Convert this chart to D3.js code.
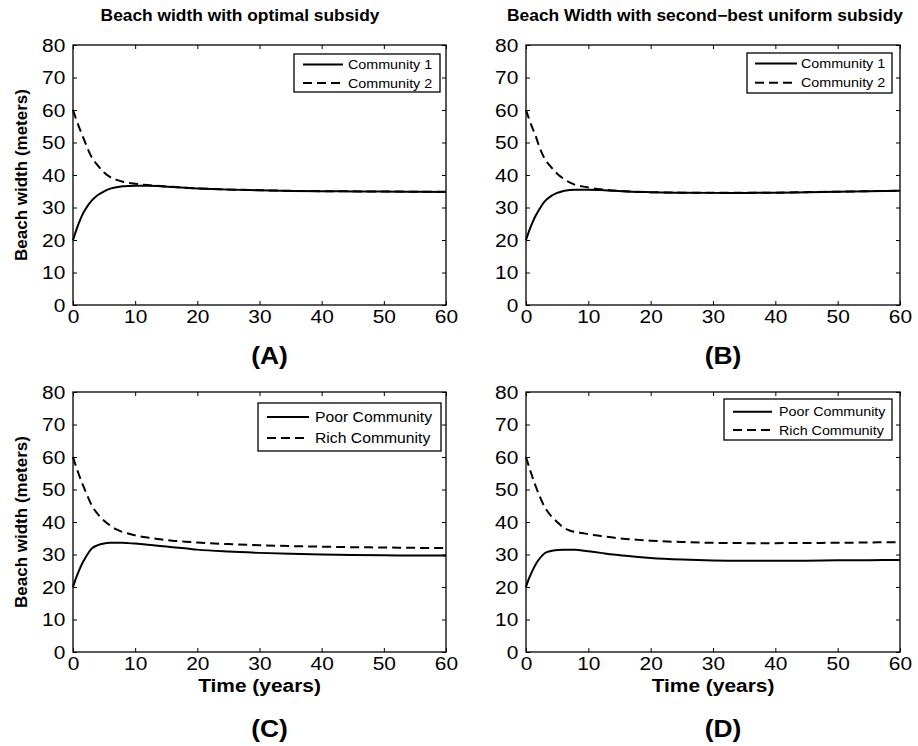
<!DOCTYPE html>
<html>
<head>
<meta charset="utf-8">
<script src="https://cdn.jsdelivr.net/npm/d3@7"></script>
<style>
  html, body { margin: 0; padding: 0; background: #fff; }
  svg { display: block; }
  text { font-family: "Liberation Sans", Arial, Helvetica, sans-serif; fill: #000; }
</style>
</head>
<body>
<svg id="chart" width="918" height="746"></svg>
<script>
// ---------------- DATA ----------------
const time = [0, 0.5, 1, 1.5, 2, 3, 4, 5, 6, 7, 8, 9, 10, 12, 14, 16, 18, 20, 25, 30, 35, 40, 45, 50, 55, 60];

const xTicks = [0, 10, 20, 30, 40, 50, 60];
const yTicks = [0, 10, 20, 30, 40, 50, 60, 70, 80];

const titles = ["Beach width with optimal subsidy", "Beach Width with second\u2212best uniform subsidy", "", ""];
const panelLetters = ["(A)", "(B)", "(C)", "(D)"];
const legendNamesTop = ["Community 1", "Community 2"];
const legendNamesBottom = ["Poor Community", "Rich Community"];
const yLabel = "Beach width (meters)";
const xLabel = "Time (years)";

// Panel A: optimal subsidy
const aCommunity1 = [20, 22.9, 25.5, 27.75, 29.45, 32.1, 33.85, 34.95, 35.8, 36.25, 36.52, 36.63, 36.7, 36.7, 36.55, 36.3, 36.05, 35.85, 35.5, 35.3, 35.1, 35.0, 34.95, 34.9, 34.85, 34.8];
const aCommunity2 = [60, 57.2, 54.6, 52.2, 49.8, 45.5, 42.9, 40.8, 39.35, 38.5, 37.95, 37.55, 37.3, 36.9, 36.6, 36.35, 36.1, 35.9, 35.52, 35.32, 35.12, 35.02, 34.97, 34.92, 34.87, 34.82];
// Panel B: second-best uniform subsidy
const bCommunity1 = [20, 22.8, 25.2, 27.3, 29.0, 31.9, 33.5, 34.5, 35.1, 35.4, 35.5, 35.5, 35.5, 35.35, 35.15, 34.95, 34.8, 34.7, 34.55, 34.5, 34.5, 34.55, 34.7, 34.85, 35.0, 35.15];
const bCommunity2 = [60, 57.2, 54.6, 52.3, 49.4, 45.0, 42.5, 40.4, 38.9, 37.7, 36.9, 36.5, 36.15, 35.6, 35.25, 35.0, 34.82, 34.72, 34.57, 34.52, 34.52, 34.57, 34.72, 34.87, 35.02, 35.17];
// Panel C: optimal subsidy, poor vs rich
const cPoor = [20, 22.8, 25.2, 27.3, 29.0, 31.8, 32.9, 33.4, 33.6, 33.65, 33.6, 33.5, 33.35, 33.0, 32.65, 32.25, 31.9, 31.5, 30.9, 30.5, 30.2, 30.0, 29.85, 29.75, 29.7, 29.65];
const cRich = [60, 57.0, 54.3, 51.8, 49.5, 45.2, 42.4, 40.4, 38.9, 37.7, 36.9, 36.4, 35.9, 35.2, 34.7, 34.25, 33.95, 33.7, 33.2, 32.85, 32.6, 32.4, 32.25, 32.15, 32.05, 32.0];
// Panel D: second-best, poor vs rich
const dPoor = [20, 22.7, 24.9, 26.8, 28.3, 30.4, 31.1, 31.4, 31.5, 31.5, 31.45, 31.25, 31.0, 30.5, 30.0, 29.6, 29.25, 28.95, 28.45, 28.15, 28.05, 28.05, 28.1, 28.2, 28.25, 28.3];
const dRich = [60, 56.9, 54.0, 51.3, 48.8, 44.6, 41.9, 40.0, 38.3, 37.4, 36.9, 36.6, 36.25, 35.7, 35.2, 34.8, 34.5, 34.25, 33.85, 33.6, 33.5, 33.5, 33.55, 33.6, 33.7, 33.8];

const panelSeries = [
  [aCommunity1, aCommunity2],
  [bCommunity1, bCommunity2],
  [cPoor, cRich],
  [dPoor, dRich]
];
const panelLegendNames = [legendNamesTop, legendNamesTop, legendNamesBottom, legendNamesBottom];

// ---------------- LAYOUT ----------------
const SX = 1.1; // horizontal stretch of the reference's lettering
const panels = [
  { x0: 73,  x1: 446, y0: 45,  y1: 305, titleX: 240, letterY: 364, leg: { x: 294, y: 54,  w: 146, h: 38, l1: 303, l2: 343, tx: 348, r1: 64.5, r2: 83,  fs: 13 }, yLab: true,  xLab: false },
  { x0: 526, x1: 900, y0: 45,  y1: 305, titleX: 705, letterY: 364, leg: { x: 747, y: 53,  w: 145, h: 40, l1: 755, l2: 797, tx: 801, r1: 63.5, r2: 82.7, fs: 13 }, yLab: false, xLab: false },
  { x0: 73,  x1: 446, y0: 392, y1: 652, titleX: 240, letterY: 737, leg: { x: 258, y: 403, w: 183, h: 48, l1: 267, l2: 309, tx: 315, r1: 417, r2: 438, fs: 14.3 }, yLab: true,  xLab: true },
  { x0: 526, x1: 900, y0: 392, y1: 652, titleX: 705, letterY: 737, leg: { x: 724, y: 399, w: 168, h: 41, l1: 733, l2: 772, tx: 779, r1: 411.7, r2: 430, fs: 13 }, yLab: false, xLab: true }
];
const dashes = ["none", "9,5"];

const svg = d3.select("#chart");

function stretchedText(g, x, y, str, opts) {
  const t = g.append("text")
    .attr("transform", `translate(${x},${y}) scale(${SX},1)`)
    .text(str);
  Object.entries(opts || {}).forEach(([k, v]) => t.style(k, v));
  return t;
}

panels.forEach((p, i) => {
  const g = svg.append("g");
  const x = d3.scaleLinear().domain([0, 60]).range([p.x0, p.x1]);
  const y = d3.scaleLinear().domain([0, 80]).range([p.y1, p.y0]);

  // axes with inward ticks
  const bottom = g.append("g").attr("transform", `translate(0,${p.y1})`)
    .call(d3.axisBottom(x).tickValues(xTicks).tickFormat(d3.format("d")).tickSizeInner(-4).tickSizeOuter(0).tickPadding(5));
  const left = g.append("g").attr("transform", `translate(${p.x0},0)`)
    .call(d3.axisLeft(y).tickValues(yTicks).tickFormat(d3.format("d")).tickSizeInner(-4).tickSizeOuter(0).tickPadding(7));
  const top = g.append("g").attr("transform", `translate(0,${p.y0})`)
    .call(d3.axisTop(x).tickValues(xTicks).tickFormat("").tickSizeInner(-4).tickSizeOuter(0));
  const right = g.append("g").attr("transform", `translate(${p.x1},0)`)
    .call(d3.axisRight(y).tickValues(yTicks).tickFormat("").tickSizeInner(-4).tickSizeOuter(0));

  [bottom, left, top, right].forEach(a => {
    a.select(".domain").remove();
    a.selectAll("line").attr("stroke", "#000").attr("stroke-width", 1);
  });
  [bottom, left].forEach(a => {
    a.selectAll("text")
      .attr("fill", "#000")
      .style("font-family", '"Liberation Sans", Arial, sans-serif')
      .style("font-size", "19px")
      .attr("transform", `scale(${SX},1)`);
  });

  // curves
  panelSeries[i].forEach((vals, k) => {
    const pts = time.map((t, j) => [t, vals[j]]);
    g.append("path")
      .datum(pts)
      .attr("fill", "none")
      .attr("stroke", "#000")
      .attr("stroke-width", 2)
      .attr("stroke-dasharray", dashes[k])
      .attr("d", d3.line().x(d => x(d[0])).y(d => y(d[1])).curve(d3.curveMonotoneX));
  });

  // frame
  g.append("rect")
    .attr("x", p.x0).attr("y", p.y0)
    .attr("width", p.x1 - p.x0).attr("height", p.y1 - p.y0)
    .attr("fill", "none").attr("stroke", "#000").attr("stroke-width", 1.3);

  // legend
  const L = p.leg;
  g.append("rect").attr("x", L.x).attr("y", L.y).attr("width", L.w).attr("height", L.h)
    .attr("fill", "#fff").attr("stroke", "#000").attr("stroke-width", 1.3);
  panelLegendNames[i].forEach((name, k) => {
    const ry = k === 0 ? L.r1 : L.r2;
    g.append("line").attr("x1", L.l1).attr("x2", L.l2).attr("y1", ry).attr("y2", ry)
      .attr("stroke", "#000").attr("stroke-width", 2).attr("stroke-dasharray", dashes[k]);
    stretchedText(g, L.tx, ry, name, { "font-size": L.fs + "px" }).attr("dy", "0.35em");
  });

  // title
  if (titles[i]) {
    stretchedText(g, p.titleX, 21, titles[i], { "font-size": "15.8px", "font-weight": "bold" })
      .attr("text-anchor", "middle");
  }
  // x label
  if (p.xLab) {
    stretchedText(g, (p.x0 + p.x1) / 2, p.y1 + 40, xLabel, { "font-size": "19px", "font-weight": "bold" })
      .attr("text-anchor", "middle");
  }
  // y label
  if (p.yLab) {
    g.append("text")
      .attr("transform", `translate(27,${(p.y0 + p.y1) / 2}) rotate(-90)`)
      .attr("text-anchor", "middle")
      .style("font-size", "17px").style("font-weight", "bold")
      .text(yLabel);
  }
  // panel letter
  stretchedText(g, (p.x0 + p.x1) / 2 + 10, p.letterY, panelLetters[i], { "font-size": "24px", "font-weight": "bold" })
    .attr("text-anchor", "middle");
});
</script>
</body>
</html>
